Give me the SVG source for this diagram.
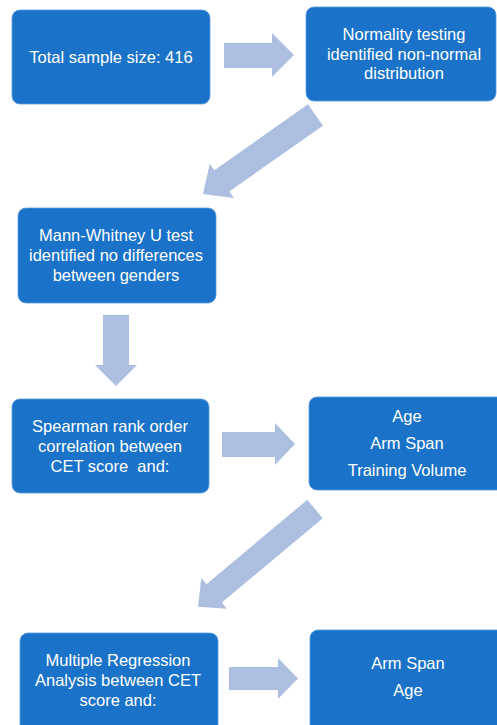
<svg xmlns="http://www.w3.org/2000/svg" width="497" height="725" viewBox="0 0 497 725">
<style>
.box{fill:#1A73C8;stroke:#5B9BE0;stroke-width:0.8}
.t{font-family:"Liberation Sans",Arial,sans-serif;font-size:16.5px;fill:#FFFFFF;text-anchor:middle}
.arr{fill:#ADBFE1}
</style>
<rect width="497" height="725" fill="#FFFFFF"/>
<g id="connectors">
<path class="arr" d="M224,43 H272 V33 L294,55 L272,77 V68 H224 Z"/>
<path class="arr" transform="translate(315.5,115) rotate(144.9)" d="M0,-13 H114.5 V-21 L137.5,0 L114.5,21 V13 H0 Z"/>
<path class="arr" d="M103,315 H129 V365 H137 L116,386 L95,365 H103 Z"/>
<path class="arr" d="M222,432 H275 V423 L295,444 L275,465 V457 H222 Z"/>
<path class="arr" transform="translate(315,509) rotate(140.1)" d="M0,-12 H131.5 V-20 L152.5,0 L131.5,20 V12 H0 Z"/>
<path class="arr" d="M229,667 H278 V658 L298,678.5 L278,699 V690 H229 Z"/>
</g>
<g id="n1">
<rect class="box" x="12" y="10" width="198" height="94" rx="8"/>
<text class="t" x="111" y="63">Total sample size: 416</text>
</g>
<g id="n2">
<rect class="box" x="306" y="7" width="190" height="94" rx="8"/>
<text class="t" x="404" y="40">Normality testing</text>
<text class="t" x="404" y="60">identified non-normal</text>
<text class="t" x="404" y="79">distribution</text>
</g>
<g id="n3">
<rect class="box" x="18" y="208" width="198" height="95" rx="8"/>
<text class="t" x="116" y="241">Mann-Whitney U test</text>
<text class="t" x="116" y="261">identified no differences</text>
<text class="t" x="116" y="281">between genders</text>
</g>
<g id="n4">
<rect class="box" x="12" y="399" width="197" height="94" rx="8"/>
<text class="t" x="110" y="432">Spearman rank order</text>
<text class="t" x="110" y="452">correlation between</text>
<text class="t" x="110" y="472" xml:space="preserve">CET score  and:</text>
</g>
<g id="n5">
<rect class="box" x="309" y="397" width="198" height="93" rx="8"/>
<text class="t" x="407" y="422">Age</text>
<text class="t" x="407" y="449">Arm Span</text>
<text class="t" x="407" y="476">Training Volume</text>
</g>
<g id="n6">
<rect class="box" x="20" y="633" width="198" height="100" rx="8"/>
<text class="t" x="118" y="666">Multiple Regression</text>
<text class="t" x="118" y="686">Analysis between CET</text>
<text class="t" x="118" y="706">score and:</text>
</g>
<g id="n7">
<rect class="box" x="310" y="630" width="198" height="103" rx="8"/>
<text class="t" x="408" y="669">Arm Span</text>
<text class="t" x="408" y="696">Age</text>
</g>
</svg>
